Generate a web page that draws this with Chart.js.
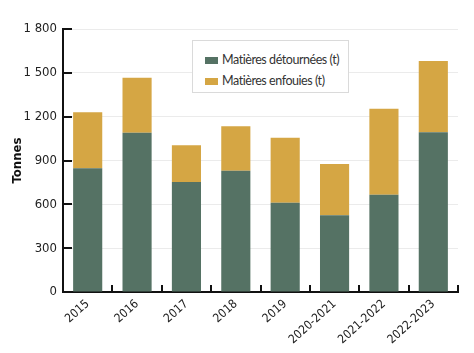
<!DOCTYPE html>
<html><head><meta charset="utf-8">
<script src="https://cdn.jsdelivr.net/npm/chart.js@4.4.1/dist/chart.umd.min.js"></script>
<style>
html,body{margin:0;padding:0;background:#fff;}
#wrap{position:relative;width:474px;height:353px;}
#legend{position:absolute;left:192px;top:40px;width:157px;height:53px;border:1px solid #dadada;background:#fff;font-family:Lato,"Open Sans",sans-serif;font-size:12.5px;letter-spacing:-0.45px;color:#333;box-sizing:border-box;}
.item{position:absolute;left:12px;height:14px;line-height:14px;display:flex;align-items:center;white-space:nowrap;}
.sw{display:inline-block;width:13px;height:7px;margin-right:4px;}
</style></head><body>
<div id="wrap"><canvas id="c" width="474" height="353"></canvas><div id="legend"></div></div>
<script>
const categories = ["2015","2016","2017","2018","2019","2020-2021","2021-2022","2022-2023"];
const detournees = [847, 1090, 753, 830, 611, 525, 666, 1093];
const enfouies = [383, 377, 251, 304, 445, 351, 589, 488];
const seriesNames = ["Matières détournées (t)", "Matières enfouies (t)"];
const seriesColors = ["#557264", "#D5A644"];
const yMin = 0, yMax = 1800, yStep = 300;
const yTitle = "Tonnes";

const fam = "'Liberation Sans Narrow','DejaVu Sans Condensed','Roboto Condensed',sans-serif";
const yTickFont = {family:fam, size:13};
const xTickFont = {family:fam, size:12};

// HTML legend
const leg = document.getElementById('legend');
seriesNames.forEach((n,i)=>{
  const d = document.createElement('div');
  d.className='item';
  d.style.top = (i===0? 12 : 33)+'px';
  d.innerHTML = '<span class="sw" style="background:'+seriesColors[i]+'"></span><span></span>';
  d.lastChild.textContent = n;
  leg.appendChild(d);
});

const innerTicks = {
  id:'innerTicks',
  afterDraw(chart){
    const ctx = chart.ctx, x = chart.scales.x, y = chart.scales.y;
    ctx.save();
    ctx.strokeStyle = '#111';
    ctx.lineWidth = 2;
    ctx.beginPath();
    y.ticks.forEach(t=>{
      if (t.value === 0) return;
      const py = Math.round(y.getPixelForValue(t.value));
      ctx.moveTo(x.left, py); ctx.lineTo(x.left+9, py);
    });
    for (let i=1;i<=categories.length;i++){
      const bx = i<categories.length ? Math.round((x.getPixelForValue(i-1)+x.getPixelForValue(i))/2) : x.right;
      ctx.moveTo(bx, y.bottom); ctx.lineTo(bx, y.bottom-7);
    }
    ctx.stroke();
    ctx.restore();
  }
};

new Chart(document.getElementById('c'), {
  type:'bar',
  data:{
    labels: categories,
    datasets:[
      {label:seriesNames[0], data:detournees, backgroundColor:seriesColors[0]},
      {label:seriesNames[1], data:enfouies, backgroundColor:seriesColors[1]}
    ]
  },
  options:{
    responsive:false,
    animation:false,
    categoryPercentage:0.59,
    barPercentage:1,
    layout:{padding:{top:29,right:16,left:0,bottom:0}},
    plugins:{legend:{display:false},tooltip:{enabled:false}},
    scales:{
      x:{
        stacked:true,
        grid:{display:false},
        border:{display:true,color:'#111',width:2},
        ticks:{font:xTickFont,color:'#222',minRotation:42,maxRotation:42,padding:-3,autoSkip:false},
        afterFit(s){ s.height = 61; }
      },
      y:{
        stacked:true,
        min:yMin,max:yMax,
        ticks:{stepSize:yStep,font:yTickFont,color:'#222',padding:6,
          callback:v=>String(v).replace(/\B(?=(\d{3})+(?!\d))/g,' ')},
        grid:{color:'#ebebeb',lineWidth:1,drawTicks:false},
        border:{display:true,color:'#111',width:2},
        title:{display:true,text:yTitle,font:{family:fam,size:13,weight:'bold'},color:'#111',padding:{top:10,bottom:4}},
        afterFit(s){ s.width = 63; }
      }
    }
  },
  plugins:[innerTicks]
});
</script>
</body></html>
